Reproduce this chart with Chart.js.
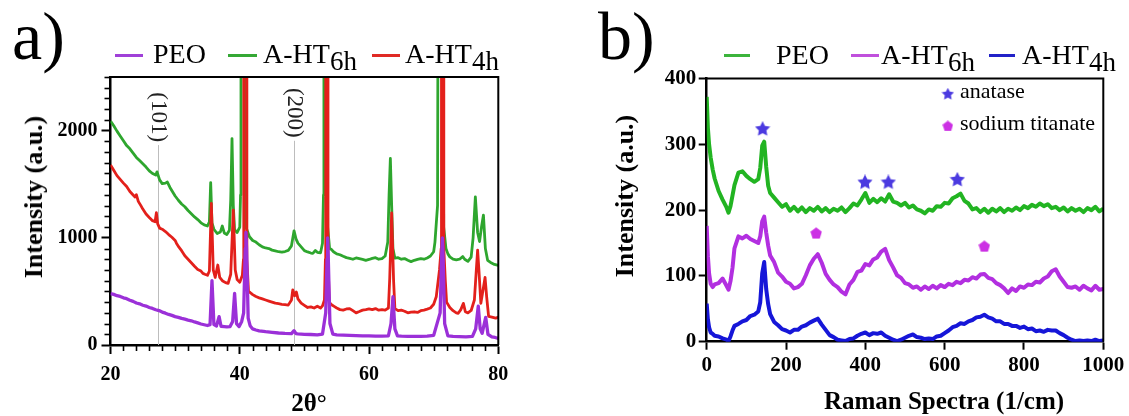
<!DOCTYPE html>
<html>
<head>
<meta charset="utf-8">
<script src="https://cdn.jsdelivr.net/npm/chart.js@4.4.1/dist/chart.umd.min.js"></script>
<style>
html,body{margin:0;padding:0;background:#fff}
#wrap{position:relative;width:1129px;height:416px;overflow:hidden;font-family:"Liberation Serif","Times New Roman",serif;color:#000}
#ca{position:absolute;left:0;top:0}
#cb{position:absolute;left:560px;top:0}
.t{position:absolute;white-space:nowrap;line-height:1}
.leg{font-size:28px}
.sub{position:relative;top:7px;font-size:27px}
.ln{position:absolute;height:3px}
.b{font-weight:bold}
</style>
</head>
<body>
<div id="wrap">
<canvas id="ca" width="560" height="416"></canvas>
<canvas id="cb" width="569" height="416"></canvas>

<div class="t" style="left:12px;top:2px;font-size:68px">a)</div>
<div class="t" style="left:598px;top:2px;font-size:68px">b)</div>

<div class="ln" style="left:115px;top:54px;width:28px;background:#a040d8"></div>
<div class="t leg" style="left:153px;top:39.5px">PEO</div>
<div class="ln" style="left:228px;top:54px;width:29px;background:#35a835"></div>
<div class="t leg" style="left:263px;top:39.5px">A-HT<span class="sub">6h</span></div>
<div class="ln" style="left:372px;top:54px;width:28px;background:#e02a25"></div>
<div class="t leg" style="left:405px;top:39.5px">A-HT<span class="sub">4h</span></div>

<div class="ln" style="left:724px;top:54px;width:26px;background:#3cb43c"></div>
<div class="t leg" style="left:776px;top:40.5px">PEO</div>
<div class="ln" style="left:851px;top:54px;width:28px;background:#c050dc"></div>
<div class="t leg" style="left:881px;top:40.5px">A-HT<span class="sub">6h</span></div>
<div class="ln" style="left:989px;top:54px;width:26px;background:#2222c8"></div>
<div class="t leg" style="left:1022px;top:40.5px">A-HT<span class="sub">4h</span></div>

<div class="t b" style="left:34px;top:196.5px;font-size:26px;transform:translate(-50%,-50%) rotate(-90deg)">Intensity (a.u.)</div>
<div class="t b" style="left:625px;top:196px;font-size:26px;transform:translate(-50%,-50%) rotate(-90deg)">Intensity (a.u.)</div>
<div class="t b" style="left:309px;top:390px;font-size:25px;transform:translateX(-50%)">2θ°</div>
<div class="t b" style="left:944px;top:388px;font-size:25px;transform:translateX(-50%)">Raman Spectra (1/cm)</div>

<div class="t" style="left:960px;top:79.6px;font-size:22px">anatase</div>
<div class="t" style="left:960px;top:111.6px;font-size:22px">sodium titanate</div>
</div>

<script>
// ---------------- DATA ----------------
const xrdTickX = [20, 40, 60, 80];
const xrdTickY = [0, 1000, 2000];
const ramanTickX = [0, 200, 400, 600, 800, 1000];
const ramanTickY = [0, 100, 200, 300, 400];

const xrdSeriesNames = ['PEO', 'A-HT6h', 'A-HT4h'];
const ramanSeriesNames = ['PEO', 'A-HT6h', 'A-HT4h'];

// XRD (2θ, intensity) pairs
const xrdPEO = [[20,480],[20.5,472],[21,460],[21.5,453],[22,440],[22.5,432],[23,418],[23.5,407],[24,392],[24.5,384],[25,371],[25.5,363],[26,350],[26.5,341],[27,329],[27.5,321],[28,307],[28.5,297],[29,285],[29.5,276],[30,265],[30.5,258],[31,248],[31.5,241],[32,232],[32.5,226],[33,215],[33.5,206],[34,196],[34.5,189],[35,182],[35.4,190],[35.7,600],[36,190],[36.4,178],[36.8,264],[37.1,175],[37.6,172],[38,170],[38.5,172],[38.9,220],[39.2,482],[39.5,200],[39.9,172],[40.3,220],[40.6,300],[40.85,900],[40.95,1050],[41.05,900],[41.3,250],[41.6,180],[42,150],[42.5,140],[43,132],[44,124],[45,118],[46,112],[47,108],[48,106],[48.4,134],[48.7,106],[49,104],[50,100],[51,98],[52,95],[52.8,102],[53.3,300],[53.5,800],[53.6,1000],[53.7,800],[53.95,200],[54.4,102],[55,95],[56,93],[57,90],[58,88],[59,86],[60,85],[61,82],[62,82],[63,86],[63.4,200],[63.7,450],[64,150],[64.4,85],[65,82],[66,80],[67,80],[68,80],[69,82],[70,90],[71,300],[71.25,850],[71.35,1000],[71.45,850],[71.7,200],[72.2,85],[73,80],[74,78],[75,76],[76,80],[76.5,150],[76.9,363],[77.2,150],[77.5,109],[78.05,258],[78.4,100],[79,75],[79.5,70],[80,62]];

const xrdHT6 = [[20,2090],[20.5,2045],[21,1995],[21.5,1950],[22,1905],[22.5,1860],[23,1830],[23.5,1790],[24,1750],[24.5,1720],[25,1690],[25.5,1660],[26,1625],[26.5,1600],[27,1585],[27.2,1615],[27.6,1540],[28,1505],[28.5,1510],[28.8,1520],[29.2,1470],[29.6,1430],[30,1390],[30.5,1350],[31,1315],[31.5,1290],[32,1255],[32.5,1225],[33,1195],[33.5,1170],[34,1140],[34.5,1120],[35,1110],[35.3,1150],[35.5,1515],[35.7,1140],[36,1080],[36.5,1040],[37,1055],[37.3,1110],[37.6,1045],[38,1030],[38.4,1070],[38.6,1350],[38.8,1925],[39,1300],[39.2,1075],[39.6,1050],[40,1100],[40.12,1400],[40.19,6000],[40.7,6000],[40.95,1100],[41.5,1010],[42,975],[42.5,960],[43,935],[43.5,915],[44,905],[44.5,900],[45,885],[45.5,878],[46,870],[46.5,866],[47,872],[47.5,882],[48,925],[48.4,1065],[48.7,990],[49,950],[49.5,915],[50,880],[50.5,868],[51,858],[51.3,855],[51.7,882],[52,865],[52.5,860],[52.8,950],[52.95,1400],[53.02,6000],[53.4,6000],[53.6,1100],[53.9,900],[54.2,890],[54.5,870],[55,850],[55.5,842],[56,828],[56.5,815],[57,808],[57.5,800],[58,812],[58.5,805],[59,798],[59.5,790],[60,798],[60.5,808],[61,815],[61.5,800],[62,806],[62.5,830],[62.9,960],[63.1,1400],[63.3,1740],[63.5,1300],[63.7,900],[64,810],[64.5,815],[65,800],[65.5,806],[66,790],[66.5,778],[67,790],[67.5,798],[68,806],[68.5,800],[69,812],[69.5,830],[70,870],[70.2,960],[70.6,1300],[70.78,6000],[71.3,6000],[71.55,1100],[71.9,900],[72.2,850],[72.5,822],[73,800],[73.5,795],[74,800],[74.5,825],[74.8,800],[75.3,780],[75.8,820],[76.1,1000],[76.45,1382],[76.8,1050],[77.1,965],[77.4,1100],[77.7,1212],[78,900],[78.35,790],[78.8,770],[79.4,752],[80,742]];

const xrdHT4 = [[20,1680],[20.5,1630],[21,1580],[21.5,1545],[22,1510],[22.5,1478],[23,1432],[23.5,1400],[23.8,1380],[24,1402],[24.3,1340],[24.7,1300],[25,1268],[25.5,1222],[26,1190],[26.5,1160],[26.9,1150],[27.1,1235],[27.3,1130],[27.6,1090],[28,1080],[28.5,1058],[29,1030],[29.5,1005],[30,975],[30.2,950],[30.5,920],[31,880],[31.5,832],[32,800],[32.5,768],[33,735],[33.5,705],[34,690],[34.3,668],[34.6,660],[35,650],[35.3,690],[35.6,1320],[35.9,700],[36.2,630],[36.6,746],[36.9,630],[37.3,600],[37.8,582],[38.2,575],[38.6,660],[39,1258],[39.3,700],[39.6,610],[40,585],[40.4,650],[40.57,800],[40.62,6000],[41.05,6000],[41.1,800],[41.35,500],[41.6,490],[42,470],[42.5,452],[43,440],[43.5,430],[44,420],[44.5,410],[45,400],[45.5,390],[46,386],[46.5,380],[47,376],[47.5,372],[48,420],[48.2,513],[48.5,460],[48.75,495],[49,430],[49.5,390],[50,370],[50.5,350],[51,356],[51.5,345],[52,362],[52.5,345],[52.8,365],[53.1,420],[53.25,800],[53.3,6000],[53.6,6000],[53.65,800],[53.85,400],[54.2,375],[54.6,360],[55,345],[55.5,330],[56,325],[56.5,336],[57,340],[57.5,320],[58,300],[58.5,312],[59,325],[59.5,330],[60,336],[60.5,330],[61,340],[61.5,325],[62,330],[62.5,325],[63,345],[63.2,620],[63.5,1233],[63.8,600],[64,340],[64.5,320],[65,325],[65.5,315],[66,300],[66.5,306],[67,310],[67.5,304],[68,320],[68.5,326],[69,335],[69.5,345],[70,380],[70.4,450],[70.9,700],[71.16,900],[71.21,6000],[71.52,6000],[71.57,900],[71.8,600],[72,400],[72.5,350],[73,320],[73.5,300],[73.8,296],[74.2,330],[74.6,388],[74.9,310],[75.3,300],[75.8,322],[76.3,420],[76.6,700],[76.8,885],[77,700],[77.3,389],[77.6,500],[77.95,631],[78.2,450],[78.5,266],[79,260],[79.6,250],[80,262]];

// XRD peak annotations
const annoX = [27.3, 48.4];
const annoTop = [1865, 1905];
const annoLabel = ['(101)', '(200)'];

// Raman shift grid (1/cm)
const ramanX = [0,3,6,10,15,20,30,40,50,55,60,65,70,80,90,100,110,120,130,135,140,145,150,155,160,
  170,180,190,200,
  210,220,230,240,250,260,270,280,290,300,
  310,320,330,340,350,360,370,380,390,400,
  410,420,430,440,450,460,470,480,490,500,
  510,520,530,540,550,560,570,580,590,600,
  610,620,630,640,650,660,670,680,690,700,
  710,720,730,740,750,760,770,780,790,800,
  810,820,830,840,850,860,870,880,890,900,
  910,920,930,940,950,960,970,980,990,1000];

const ramanPEO = [372,325,300,280,262,248,229,216,204,196,206,222,238,257,259,252,247,243,247,264,298,304,266,237,226,
  219,212,205,209,
  199,205,198,204,197,203,199,205,198,203,
  197,202,199,204,197,203,210,207,216,226,
  211,217,212,218,213,224,213,211,207,211,
  204,207,201,199,195,201,199,206,205,211,
  210,218,221,225,214,210,201,203,197,202,
  196,202,198,203,197,202,199,204,200,206,
  203,208,205,210,206,209,203,205,200,204,
  198,203,199,202,197,203,200,205,198,202];

const ramanHT6 = [176,130,104,88,83,87,89,96,85,79,92,112,142,160,157,161,156,153,150,160,183,190,166,146,131,
  121,105,99,91,
  88,81,83,88,101,116,126,133,120,103,
  94,87,83,76,72,87,94,106,108,118,
  116,125,128,137,141,124,113,101,97,89,
  87,82,84,79,84,80,85,81,86,83,
  88,86,91,89,94,93,98,96,102,103,
  97,95,89,86,81,74,81,77,84,82,
  87,86,91,90,96,99,107,110,99,91,
  83,82,84,79,85,81,78,85,79,80];

const ramanHT4 = [58,34,22,14,12,9,8,5,3,1,8,17,24,27,31,33,39,41,46,60,104,121,80,57,42,
  30,25,19,17,
  14,18,18,23,25,29,32,35,26,18,
  10,7,3,2,1,4,5,9,12,14,
  10,13,12,14,9,6,3,1,3,6,
  9,11,7,6,4,5,4,8,9,13,
  17,22,24,28,27,31,33,37,38,41,
  37,35,31,31,27,27,24,24,21,23,
  19,20,16,17,15,18,17,17,13,10,
  6,3,1,2,1,2,1,3,1,2];

// Raman phase markers
const anataseX = [141, 399, 458, 632];
const anataseY = [323, 242, 242, 246];
const titanateX = [276, 700];
const titanateY = [165, 145];
const keyX = [608];
const keyAnataseY = [376];
const keyTitanateY = [328];

// ---------------- HELPERS ----------------
const FONT = '"Liberation Serif", "Times New Roman", serif';
function pairs(a) { return a.map(p => ({x: p[0], y: p[1]})); }
function zip(xs, ys) { return xs.map((x, i) => ({x: x, y: ys[i]})); }

function makeStar(size, color) {
  const c = document.createElement('canvas'); c.width = c.height = size;
  const g = c.getContext('2d'); g.fillStyle = color; g.beginPath();
  for (let i = 0; i < 10; i++) {
    const r = i % 2 ? size * 0.25 : size * 0.5;
    const a = -Math.PI / 2 + i * Math.PI / 5;
    g.lineTo(size / 2 + r * Math.cos(a), size / 2 + r * Math.sin(a));
  }
  g.closePath(); g.fill(); return c;
}
function makePentagon(size, color) {
  const c = document.createElement('canvas'); c.width = c.height = size;
  const g = c.getContext('2d'); g.fillStyle = color; g.beginPath();
  for (let i = 0; i < 5; i++) {
    const a = -Math.PI / 2 + i * 2 * Math.PI / 5;
    g.lineTo(size / 2 + size * 0.5 * Math.cos(a), size / 2 + size * 0.52 * Math.sin(a) + 0.5);
  }
  g.closePath(); g.fill(); return c;
}

const framePlugin = {
  id: 'frame',
  afterDraw(chart) {
    const {ctx, chartArea: a} = chart;
    ctx.save(); ctx.strokeStyle = '#000'; ctx.lineWidth = 2;
    ctx.beginPath(); ctx.moveTo(a.left, a.top); ctx.lineTo(a.right, a.top); ctx.lineTo(a.right, a.bottom); ctx.stroke();
    ctx.restore();
  }
};

const minorTickPlugin = {
  id: 'minorTicks',
  afterDraw(chart) {
    const {ctx, scales: {x, y}, chartArea: a} = chart;
    ctx.save(); ctx.strokeStyle = '#000'; ctx.lineWidth = 1.6;
    for (let v = 100; v <= 2500; v += 100) {
      if (v % 1000 === 0) continue;
      const py = Math.round(y.getPixelForValue(v)) + 0.5;
      ctx.beginPath(); ctx.moveTo(a.left - 6, py); ctx.lineTo(a.left, py); ctx.stroke();
    }
    for (let v = 22; v < 80; v += 2) {
      if (v % 20 === 0) continue;
      const px = Math.round(x.getPixelForValue(v)) + 0.5;
      ctx.beginPath(); ctx.moveTo(px, a.bottom); ctx.lineTo(px, a.bottom + 6); ctx.stroke();
    }
    ctx.restore();
  }
};

const annoPlugin = {
  id: 'anno',
  beforeDatasetsDraw(chart) {
    const {ctx, scales: {x, y}} = chart;
    ctx.save();
    annoX.forEach((v, i) => {
      const px = Math.round(x.getPixelForValue(v)) + 0.5;
      const top = y.getPixelForValue(annoTop[i]);
      ctx.strokeStyle = '#bdbdbd'; ctx.lineWidth = 1;
      ctx.beginPath(); ctx.moveTo(px, y.getPixelForValue(0)); ctx.lineTo(px, top); ctx.stroke();
      ctx.save();
      ctx.translate(px, top - 3); ctx.rotate(Math.PI / 2);
      ctx.font = '23px ' + FONT; ctx.fillStyle = '#222';
      ctx.textAlign = 'right'; ctx.textBaseline = 'middle';
      ctx.fillText(annoLabel[i], 0, 0);
      ctx.restore();
    });
    ctx.restore();
  }
};

function axis(min, max, ticks, fontSize, pad, tl, fitProp, fitVal) {
  return {
    type: 'linear', min: min, max: max,
    afterBuildTicks: s => { s.ticks = ticks.map(v => ({value: v})); },
    afterFit: s => { s[fitProp] = fitVal; },
    grid: {drawOnChartArea: false, drawTicks: true, tickLength: tl, tickWidth: 2, tickColor: '#000', color: '#000'},
    border: {display: true, color: '#000', width: 2.5},
    ticks: {color: '#000', padding: pad, autoSkip: false, maxRotation: 0,
      font: {family: FONT, size: fontSize, weight: 'bold'}, callback: v => String(v)}
  };
}

// ---------------- CHART A: XRD ----------------
new Chart(document.getElementById('ca'), {
  type: 'line',
  data: {
    datasets: [
      {label: xrdSeriesNames[0], data: pairs(xrdPEO), borderColor: '#9b30d8', borderWidth: 3.3},
      {label: xrdSeriesNames[2], data: pairs(xrdHT4), borderColor: '#e3201b', borderWidth: 2.8},
      {label: xrdSeriesNames[1], data: pairs(xrdHT6), borderColor: '#2ea62e', borderWidth: 2.8}
    ]
  },
  options: {
    responsive: false, animation: false, events: [],
    layout: {padding: {left: 0, right: 61.7, top: 77, bottom: 0}, autoPadding: false},
    elements: {point: {radius: 0}, line: {tension: 0, borderJoinStyle: 'round'}},
    plugins: {legend: {display: false}, tooltip: {enabled: false}},
    scales: {
      x: axis(20, 80, xrdTickX, 20, 9, 9, 'height', 71),
      y: axis(0, 2500, xrdTickY, 20, 4, 9, 'width', 110.5)
    }
  },
  plugins: [annoPlugin, minorTickPlugin, framePlugin]
});

// ---------------- CHART B: RAMAN ----------------
const starImg = makeStar(16, '#4b3ae0');
const starKey = makeStar(13, '#4b3ae0');
const pentImg = makePentagon(12, '#cc30e4');
const pentKey = makePentagon(11, '#cc30e4');

new Chart(document.getElementById('cb'), {
  type: 'line',
  data: {
    datasets: [
      {label: 'anatase', data: zip(anataseX, anataseY), showLine: false, pointStyle: starImg, pointRadius: 8},
      {label: 'sodium titanate', data: zip(titanateX, titanateY), showLine: false, pointStyle: pentImg, pointRadius: 6},
      {label: 'anatase key', data: zip(keyX, keyAnataseY), showLine: false, pointStyle: starKey, pointRadius: 6},
      {label: 'titanate key', data: zip(keyX, keyTitanateY), showLine: false, pointStyle: pentKey, pointRadius: 6},
      {label: ramanSeriesNames[0], data: zip(ramanX, ramanPEO), borderColor: '#22b422', borderWidth: 4},
      {label: ramanSeriesNames[1], data: zip(ramanX, ramanHT6), borderColor: '#b22fe0', borderWidth: 4},
      {label: ramanSeriesNames[2], data: zip(ramanX, ramanHT4), borderColor: '#1616d8', borderWidth: 4}
    ]
  },
  options: {
    responsive: false, animation: false, events: [],
    layout: {padding: {left: 0, right: 25.7, top: 78.5, bottom: 0}, autoPadding: false},
    elements: {point: {radius: 0}, line: {tension: 0, borderJoinStyle: 'round'}},
    plugins: {legend: {display: false}, tooltip: {enabled: false}},
    scales: {
      x: axis(0, 1000, ramanTickX, 21, 3, 8, 'height', 74.3),
      y: axis(0, 400, ramanTickY, 21, 2.5, 8, 'width', 146.7)
    }
  },
  plugins: [framePlugin]
});
</script>
</body>
</html>
